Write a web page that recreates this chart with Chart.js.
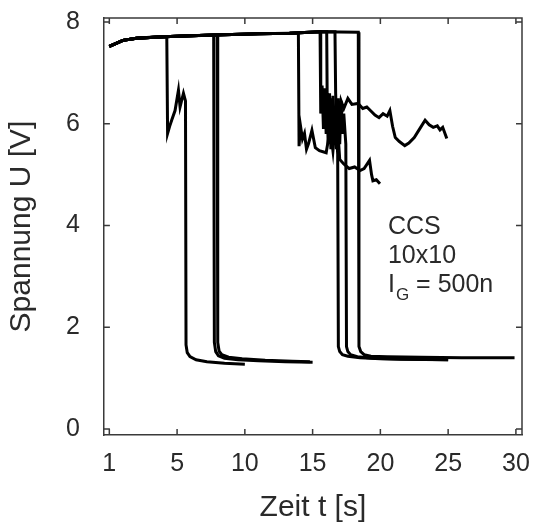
<!DOCTYPE html>
<html>
<head>
<meta charset="utf-8">
<script src="https://cdn.jsdelivr.net/npm/chart.js@4.4.0/dist/chart.umd.min.js"></script>
<style>
  html, body { margin: 0; padding: 0; background: #fff; }
  #wrap { width: 537px; height: 523px; }
</style>
</head>
<body>
<div id="wrap"><canvas id="chart" width="537" height="523"></canvas></div>
<script>
// time axis runs 0..30, the first tick carries the label "1" like the original figure
const xTicks = [0, 5, 10, 15, 20, 25, 30];
const xTickLabels = ['1', '5', '10', '15', '20', '25', '30'];
const yTicks = [0, 2, 4, 6, 8];

// voltage traces, one pair of arrays per measurement run
const run1T = [0, 1, 2, 3, 4.24, 4.3, 4.45, 4.6, 4.85, 5.1, 5.22, 5.47, 5.62, 5.66, 5.75, 5.95, 6.4, 7.2, 8.5, 10.0];
const run1U = [7.52, 7.64, 7.68, 7.7, 7.71, 5.81, 5.95, 6.07, 6.26, 6.66, 6.33, 6.6, 6.45, 1.65, 1.5, 1.42, 1.36, 1.32, 1.29, 1.27];

const run2T = [0, 1, 2, 4, 6, 7.7, 7.75, 7.85, 8.05, 8.5, 9.5, 11, 13, 15];
const run2U = [7.52, 7.64, 7.68, 7.71, 7.73, 7.74, 1.7, 1.52, 1.44, 1.39, 1.36, 1.34, 1.32, 1.31];

const run3T = [0, 1, 2, 4, 6, 7.95, 8.0, 8.1, 8.3, 8.8, 9.8, 11.5, 13.5, 14.8];
const run3U = [7.52, 7.64, 7.68, 7.71, 7.73, 7.75, 1.7, 1.53, 1.46, 1.41, 1.38, 1.35, 1.33, 1.32];

const run4T = [0, 1, 2, 4, 6, 8.4, 11, 13.3, 13.95, 14.0, 14.1, 14.25, 14.4, 14.55, 14.7, 14.95, 15.2, 15.5, 16.0, 16.3, 16.5, 16.7, 16.85, 16.9, 17.0, 17.2, 17.6, 18.5, 20, 22.5, 25];
const run4U = [7.52, 7.64, 7.68, 7.71, 7.73, 7.75, 7.77, 7.78, 7.78, 5.56, 5.97, 5.7, 5.81, 5.5, 5.61, 5.87, 5.53, 5.47, 5.43, 5.9, 5.47, 6.1, 5.4, 1.62, 1.52, 1.46, 1.43, 1.40, 1.38, 1.37, 1.36];

const run5T = [0, 1, 2, 4, 6, 8.4, 11, 13.3, 15.5, 15.55, 15.6, 15.7, 15.8, 15.9, 16.0, 16.1, 16.2, 16.3, 16.4, 16.5, 16.65, 16.8, 16.95, 17.1, 17.3, 17.6, 17.9, 18.35, 18.7, 19.0, 19.3, 19.6, 19.9, 20.2, 20.5, 20.7, 20.9, 21.1, 21.4, 21.8, 22.1, 22.5, 22.9, 23.3, 23.6, 23.9, 24.2, 24.4, 24.6, 24.9];
const run5U = [7.52, 7.64, 7.68, 7.71, 7.73, 7.75, 7.77, 7.78, 7.81, 7.81, 6.2, 6.75, 5.9, 6.7, 5.8, 6.6, 5.7, 6.5, 5.9, 6.55, 5.8, 6.3, 5.9, 6.45, 6.3, 6.5, 6.38, 6.4, 6.3, 6.33, 6.25, 6.17, 6.12, 6.2, 6.15, 6.26, 5.95, 5.73, 5.65, 5.57, 5.62, 5.73, 5.9, 6.07, 5.98, 5.93, 5.96, 5.88, 5.93, 5.71];

const run6T = [0, 1, 2, 4, 6, 8.4, 11, 13.3, 15.5, 16.04, 16.08, 16.15, 16.25, 16.35, 16.45, 16.55, 16.65, 16.75, 16.85, 17.0, 17.3, 17.7, 18.1, 18.5, 18.8, 19.2, 19.35, 19.45, 19.7, 19.97];
const run6U = [7.52, 7.64, 7.68, 7.71, 7.73, 7.75, 7.77, 7.78, 7.81, 7.81, 6.3, 5.6, 6.6, 5.5, 6.4, 5.6, 6.2, 5.5, 5.9, 5.3, 5.21, 5.12, 5.15, 5.08, 5.12, 5.28, 5.0, 4.88, 4.9, 4.82];

const run7T = [0, 1, 2, 4, 6, 8.4, 11, 13.3, 15.5, 16.65, 16.7, 16.8, 16.9, 17.0, 17.1, 17.2, 17.3, 17.45, 17.5, 17.6, 17.8, 18.3, 19.5, 21.5, 25];
const run7U = [7.52, 7.64, 7.68, 7.71, 7.73, 7.75, 7.77, 7.78, 7.81, 7.81, 6.6, 5.7, 6.5, 5.6, 6.45, 5.8, 6.2, 5.6, 1.62, 1.52, 1.46, 1.42, 1.39, 1.37, 1.36];

const run8T = [0, 1, 2, 4, 6, 8.4, 11, 13.3, 15.5, 18.37, 18.42, 18.55, 18.8, 19.3, 20.5, 23, 26, 29.9];
const run8U = [7.52, 7.64, 7.68, 7.71, 7.73, 7.75, 7.77, 7.78, 7.81, 7.8, 1.62, 1.52, 1.46, 1.43, 1.42, 1.41, 1.40, 1.40];

const runs = [
    [run1T, run1U], [run2T, run2U], [run3T, run3U], [run4T, run4U],
    [run5T, run5U], [run6T, run6U], [run7T, run7U], [run8T, run8U]
];

const fontFamily = '"Liberation Sans", Arial, sans-serif';
const textColor = '#2a2a2a';
const frameColor = '#3a3a3a';

// top/right frame lines and the inward tick marks on all four sides
const frameTicks = {
    id: 'frameTicks',
    afterDatasetsDraw(chart) {
        const { ctx, chartArea: a, scales: { x, y } } = chart;
        ctx.save();
        ctx.strokeStyle = frameColor;
        ctx.lineWidth = 1.5;
        ctx.beginPath();
        ctx.moveTo(a.left, a.top);
        ctx.lineTo(a.right, a.top);
        ctx.lineTo(a.right, a.bottom);
        xTicks.forEach(v => {
            const px = x.getPixelForValue(v);
            ctx.moveTo(px, a.bottom);
            ctx.lineTo(px, a.bottom - 6);
            ctx.moveTo(px, a.top);
            ctx.lineTo(px, a.top + 6);
        });
        yTicks.forEach(v => {
            const py = y.getPixelForValue(v);
            ctx.moveTo(a.left, py);
            ctx.lineTo(a.left + 6, py);
            ctx.moveTo(a.right, py);
            ctx.lineTo(a.right - 6, py);
        });
        ctx.stroke();
        ctx.restore();
    }
};

// "CCS / 10x10 / I_G = 500n" label inside the plot
const noteLabel = {
    id: 'noteLabel',
    afterDatasetsDraw(chart) {
        const { ctx, scales: { x, y } } = chart;
        const left = x.getPixelForValue(20.56);
        ctx.save();
        ctx.fillStyle = textColor;
        ctx.textBaseline = 'alphabetic';
        ctx.textAlign = 'left';
        ctx.font = '25px ' + fontFamily;
        ctx.fillText('CCS', left, y.getPixelForValue(3.83));
        ctx.fillText('10x10', left, y.getPixelForValue(3.26));
        const base3 = y.getPixelForValue(2.69);
        ctx.fillText('I', left, base3);
        const iw = ctx.measureText('I').width;
        ctx.font = '17px ' + fontFamily;
        ctx.fillText('G', left + iw + 1, base3 + 8);
        const gw = ctx.measureText('G').width;
        ctx.font = '25px ' + fontFamily;
        ctx.fillText(' = 500n', left + iw + 1 + gw, base3);
        ctx.restore();
    }
};

const ctx = document.getElementById('chart').getContext('2d');
new Chart(ctx, {
    type: 'line',
    data: {
        datasets: runs.map(([t, u], i) => ({
            label: 'Lauf ' + (i + 1),
            data: t.map((tv, k) => ({ x: tv, y: u[k] })),
            borderColor: '#000',
            borderWidth: 3,
            pointRadius: 0,
            tension: 0,
            fill: false
        }))
    },
    options: {
        responsive: false,
        animation: false,
        layout: { padding: { top: 18, right: 15, left: 4, bottom: 0 } },
        plugins: {
            legend: { display: false },
            tooltip: { enabled: false }
        },
        scales: {
            x: {
                type: 'linear',
                min: -0.4,
                max: 30.45,
                afterBuildTicks: scale => { scale.ticks = xTicks.map(v => ({ value: v })); },
                // keep the label padding from eating into the plot width
                afterFit: scale => { scale.paddingLeft = 0; scale.paddingRight = 0; },
                ticks: {
                    callback: v => xTickLabels[xTicks.indexOf(v)],
                    color: textColor,
                    padding: 14,
                    maxRotation: 0,
                    font: { family: fontFamily, size: 25 }
                },
                grid: { display: false, drawTicks: false },
                border: { display: true, color: frameColor, width: 1.5 },
                title: {
                    display: true,
                    text: 'Zeit t [s]',
                    color: textColor,
                    padding: { top: 0, bottom: 0 },
                    font: { family: fontFamily, size: 30, lineHeight: 1.0 }
                }
            },
            y: {
                type: 'linear',
                min: -0.12,
                max: 8.08,
                afterBuildTicks: scale => { scale.ticks = yTicks.map(v => ({ value: v })); },
                afterFit: scale => { scale.paddingTop = 0; scale.paddingBottom = 0; },
                ticks: {
                    color: textColor,
                    padding: 24,
                    font: { family: fontFamily, size: 25 }
                },
                grid: { display: false, drawTicks: false },
                border: { display: true, color: frameColor, width: 1.5 },
                title: {
                    display: true,
                    text: 'Spannung U [V]',
                    color: textColor,
                    padding: { top: 0, bottom: 2 },
                    font: { family: fontFamily, size: 30 }
                }
            }
        }
    },
    plugins: [frameTicks, noteLabel]
});
</script>
</body>
</html>
